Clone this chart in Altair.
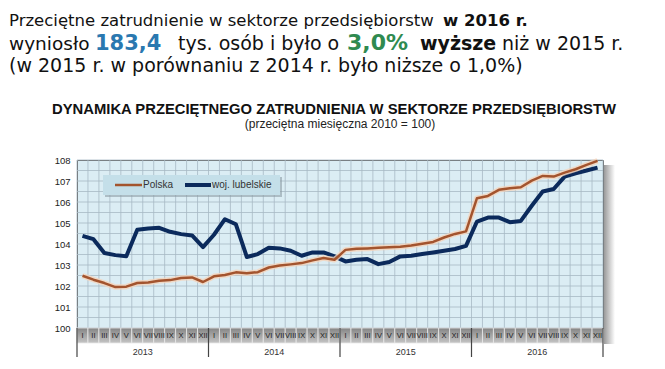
import altair as alt
import pandas as pd

months = ["I", "II", "III", "IV", "V", "VI", "VII", "VIII", "IX", "X", "XI", "XII"]
years = ["2013", "2014", "2015", "2016"]
polska = [102.49, 102.30, 102.14, 101.95, 101.97, 102.14, 102.17, 102.25, 102.28, 102.38, 102.41, 102.19,
          102.46, 102.52, 102.65, 102.61, 102.66, 102.88, 102.98, 103.03, 103.09, 103.22, 103.33, 103.25,
          103.72, 103.77, 103.79, 103.82, 103.84, 103.87, 103.93, 104.01, 104.10, 104.31, 104.48, 104.60,
          106.18, 106.29, 106.58, 106.66, 106.70, 107.02, 107.24, 107.21, 107.40, 107.56, 107.77, 107.96]
lubelskie = [104.39, 104.23, 103.57, 103.47, 103.42, 104.68, 104.74, 104.77, 104.58, 104.47, 104.41, 103.85,
             104.44, 105.18, 104.94, 103.38, 103.52, 103.82, 103.79, 103.68, 103.44, 103.60, 103.60, 103.41,
             103.17, 103.25, 103.28, 103.04, 103.14, 103.41, 103.44, 103.52, 103.60, 103.68, 103.76, 103.91,
             105.07, 105.26, 105.26, 105.04, 105.10, 105.82, 106.50, 106.62, 107.21, 107.37, 107.50, 107.64]
y_ticks = [100, 101, 102, 103, 104, 105, 106, 107, 108]

n = len(years) * len(months)
df = pd.DataFrame({
    "idx": list(range(n)),
    "month": [months[i % 12] for i in range(n)],
    "year": [years[i // 12] for i in range(n)],
    "polska": polska,
    "lubelskie": lubelskie,
})
df["pos"] = df["idx"] + 0.5
df["start"] = df["idx"]
df["end"] = df["idx"] + 1

bounds = pd.DataFrame({"b": list(range(n + 1))})
hgrid = pd.DataFrame({"g": [t + h for t in y_ticks[:-1] for h in (0, 0.5)] + [y_ticks[-1]]})
ydf = pd.DataFrame({"year": years, "c": [12 * k + 6 for k in range(len(years))]})
ysep = pd.DataFrame({"b": [12 * k for k in range(len(years) + 1)]})

xs = alt.Scale(domain=[0, n], nice=False, zero=False)
ys = alt.Scale(domain=[y_ticks[0], y_ticks[-1]], nice=False, zero=False)
yaxis = alt.Axis(values=y_ticks, grid=False, ticks=False, domain=False, labelPadding=7,
                 labelFontSize=9.5, labelColor="#222", labelFont="Liberation Sans", title=None)

one = lambda: alt.Data(values=[{"k": 0}])

def txt(s, x, y, size, weight="normal", color="#111", font="DejaVu Sans", align="left"):
    return alt.Chart(alt.Data(values=[{"t": s}])).mark_text(
        align=align, baseline="alphabetic", fontSize=size, fontWeight=weight, color=color, font=font
    ).encode(x=alt.value(x), y=alt.value(y), text="t:N")

grad_v = alt.Gradient(gradient="linear", x1=0, y1=0, x2=0, y2=1,
                      stops=[alt.GradientStop(color="#858585", offset=0),
                             alt.GradientStop(color="#c4c4c4", offset=1)])
grad_h = alt.Gradient(gradient="linear", x1=0, y1=0, x2=1, y2=0,
                      stops=[alt.GradientStop(color="#9a9a9a", offset=0),
                             alt.GradientStop(color="#ffffff", offset=1)])

shadow = alt.Chart(one()).mark_rect(fill=grad_h).encode(
    x=alt.value(527), x2=alt.value(538), y=alt.value(5), y2=alt.value(184))

vgrid = alt.Chart(bounds).mark_rule(color="#a7b9c4", strokeWidth=0.8).encode(
    x=alt.X("b:Q", scale=xs, axis=None))
hg = alt.Chart(hgrid).mark_rule(color="#a7b9c4", strokeWidth=0.8).encode(
    y=alt.Y("g:Q", scale=ys, axis=yaxis))

strip = alt.Chart(df).mark_rect(fill=grad_v, stroke="#e8e8e8", strokeWidth=0.8).encode(
    x=alt.X("start:Q", scale=xs, axis=None), x2="end:Q", y=alt.value(168), y2=alt.value(183))
mlabels = alt.Chart(df).mark_text(fontSize=7.5, color="#222", font="Liberation Sans", baseline="middle").encode(
    x=alt.X("pos:Q", scale=xs, axis=None), y=alt.value(176), text="month:N")
seps = alt.Chart(ysep).mark_rule(color="#444", strokeWidth=1.2).encode(
    x=alt.X("b:Q", scale=xs, axis=None), y=alt.value(168), y2=alt.value(197))
ylabels = alt.Chart(ydf).mark_text(fontSize=9, color="#333", font="Liberation Sans", baseline="middle").encode(
    x=alt.X("c:Q", scale=xs, axis=None), y=alt.value(192), text="year:N")

line_l = alt.Chart(df).mark_line(strokeWidth=4, color="#0b2a5c", strokeJoin="round").encode(
    x=alt.X("pos:Q", scale=xs, axis=None), y=alt.Y("lubelskie:Q", scale=ys, axis=yaxis))
halo_p = alt.Chart(df).mark_line(strokeWidth=5.5, color="#f5d3ba", opacity=0.8, strokeJoin="round").encode(
    x=alt.X("pos:Q", scale=xs, axis=None), y=alt.Y("polska:Q", scale=ys, axis=yaxis))
line_p = alt.Chart(df).mark_line(strokeWidth=2.5, color="#a3542e", strokeJoin="round").encode(
    x=alt.X("pos:Q", scale=xs, axis=None), y=alt.Y("polska:Q", scale=ys, axis=yaxis))

# legend
leg_shadow = alt.Chart(one()).mark_rect(fill="#8c9ca5", opacity=0.6).encode(
    x=alt.value(28), x2=alt.value(205), y=alt.value(17), y2=alt.value(37))
leg_box = alt.Chart(one()).mark_rect(fill="#c4dfe9").encode(
    x=alt.value(26), x2=alt.value(203), y=alt.value(15), y2=alt.value(35))
leg_p = alt.Chart(one()).mark_rule(color="#a3542e", strokeWidth=2.5).encode(
    x=alt.value(38), x2=alt.value(65), y=alt.value(25))
leg_l = alt.Chart(one()).mark_rule(color="#0b2a5c", strokeWidth=4).encode(
    x=alt.value(108), x2=alt.value(134), y=alt.value(25))
leg_tp = alt.Chart(alt.Data(values=[{"t": "Polska"}])).mark_text(
    align="left", baseline="middle", fontSize=10, color="#333", font="Liberation Sans").encode(
    x=alt.value(66), y=alt.value(25), text="t:N")
leg_tl = alt.Chart(alt.Data(values=[{"t": "woj. lubelskie"}])).mark_text(
    align="left", baseline="middle", fontSize=10, color="#333", font="Liberation Sans").encode(
    x=alt.value(135), y=alt.value(25), text="t:N")

# header texts
texts = [
    txt("Przeciętne zatrudnienie w sektorze przedsiębiorstw", -68, -134, 16.5),
    txt("w 2016 r.", 366, -134, 16.5, weight="bold"),
    txt("wyniosło", -68, -110, 18.5),
    txt("183,4", 18, -110, 21, weight="bold", color="#2a78b0"),
    txt("tys. osób i było o", 101, -110, 19),
    txt("3,0%", 270, -110, 22, weight="bold", color="#2f8a50"),
    txt("wyższe", 343, -110, 19, weight="bold"),
    txt("niż w 2015 r.", 425, -110, 19),
    txt("(w 2015 r. w porównaniu z 2014 r. było niższe o 1,0%)", -68, -88, 19),
    txt("DYNAMIKA PRZECIĘTNEGO ZATRUDNIENIA W SEKTORZE PRZEDSIĘBIORSTW", 257, -46, 14.8,
        weight="bold", font="Liberation Sans", align="center"),
    txt("(przeciętna miesięczna 2010 = 100)", 263, -32, 12, color="#222",
        font="Liberation Sans", align="center"),
]

chart = alt.layer(
    shadow, vgrid, hg, strip, mlabels, seps, ylabels,
    line_l, halo_p, line_p,
    leg_shadow, leg_box, leg_p, leg_l, leg_tp, leg_tl,
    *texts,
).properties(
    width=526, height=168,
    padding={"left": 69, "top": 152, "right": 54, "bottom": 30},
    autosize=alt.AutoSizeParams(type="none"),
).configure_view(fill="#dbedf4", stroke="#5a5a5a", strokeWidth=1)

chart.save("out.html", embed_options={"renderer": "svg", "actions": False})
